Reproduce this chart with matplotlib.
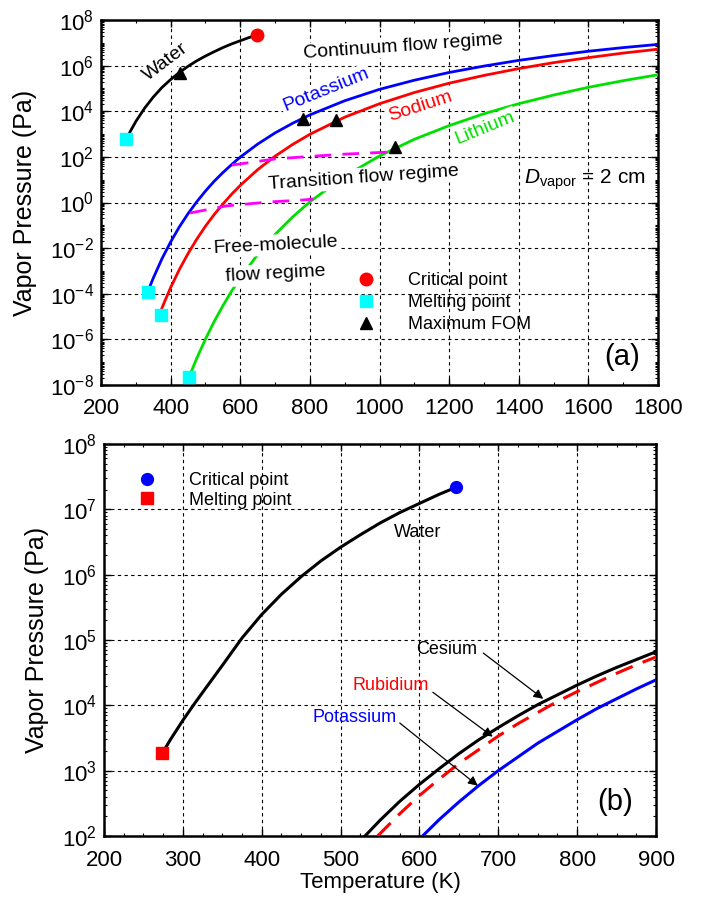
import numpy as np
import matplotlib
matplotlib.use("Agg")
import matplotlib.pyplot as plt
from matplotlib.ticker import LogLocator, MultipleLocator, NullFormatter, FixedLocator

plt.rcParams['font.family'] = ['Liberation Sans', 'DejaVu Sans']
plt.rcParams['mathtext.fontset'] = 'custom'
plt.rcParams['mathtext.rm'] = 'Liberation Sans'
plt.rcParams['mathtext.it'] = 'Liberation Sans:italic'
plt.rcParams['axes.unicode_minus'] = False

# ---- data, pressures as log10(P / Pa) ----
# panel (a)
T_water = [273, 285, 300, 325, 350, 375, 400, 425, 450, 475, 500, 525, 550, 575, 600, 625, 647]
lp_water = [2.79, 3.14, 3.55, 4.13, 4.62, 5.04, 5.39, 5.70, 5.97, 6.21, 6.42, 6.61,
            6.79, 6.95, 7.09, 7.23, 7.34]

T_k = [336, 350, 375, 400, 425, 450, 475, 500, 525, 550, 575, 600, 650, 700, 750, 800,
       900, 1000, 1100, 1200, 1300, 1400, 1500, 1600, 1700, 1800]
lp_k = [-3.85, -3.32, -2.47, -1.73, -1.07, -0.49, 0.03, 0.50, 0.93, 1.31, 1.66, 1.99,
        2.56, 3.05, 3.47, 3.84, 4.46, 4.96, 5.36, 5.70, 5.98, 6.23, 6.44, 6.63, 6.79, 6.93]

T_na = [371, 385, 400, 425, 450, 475, 500, 525, 550, 575, 600, 650, 700, 750, 800,
        900, 1000, 1100, 1200, 1300, 1400, 1500, 1600, 1700, 1800]
lp_na = [-4.78, -4.26, -3.73, -2.94, -2.24, -1.61, -1.04, -0.53, -0.07, 0.36, 0.75,
         1.44, 2.03, 2.54, 2.99, 3.74, 4.33, 4.82, 5.23, 5.57, 5.87, 6.13, 6.35, 6.55, 6.72]

T_li = [454, 475, 500, 525, 550, 575, 600, 650, 700, 750, 800, 900, 1000, 1100, 1200,
        1300, 1400, 1500, 1600, 1700, 1800]
lp_li = [-7.61, -6.83, -5.99, -5.22, -4.53, -3.89, -3.31, -2.28, -1.40, -0.64, 0.03,
         1.15, 2.04, 2.77, 3.37, 3.89, 4.33, 4.71, 5.05, 5.34, 5.60]

# flow regime boundaries (dashed magenta)
T_cont = [576, 700, 800, 900, 1040]
lp_cont = [1.64, 1.91, 2.02, 2.12, 2.22]
T_free = [456, 560, 680, 780, 810]
lp_free = [-0.46, -0.15, 0.02, 0.11, 0.15]

T_crit_a = [647]
lp_crit_a = [7.34]
T_melt_a = [273, 336, 371, 454]
lp_melt_a = [2.79, -3.92, -4.93, -7.65]
T_fom = [427, 780, 875, 1045]
lp_fom = [5.67, 3.65, 3.60, 2.42]

# panel (b)
T_water_b = [273, 285, 300, 315, 330, 350, 375, 400, 425, 450, 475, 500, 525, 550,
             575, 600, 625, 647]
lp_water_b = [3.25, 3.49, 3.77, 4.03, 4.28, 4.61, 5.03, 5.39, 5.70, 5.97, 6.21, 6.42,
              6.61, 6.79, 6.95, 7.09, 7.23, 7.34]
T_cs = [531, 550, 575, 600, 625, 650, 675, 700, 725, 750, 775, 800, 825, 850, 875, 900]
lp_cs = [2.00, 2.24, 2.53, 2.79, 3.03, 3.26, 3.47, 3.66, 3.84, 4.01, 4.16, 4.31, 4.45,
         4.58, 4.70, 4.82]
T_rb = [547, 575, 600, 625, 650, 675, 700, 725, 750, 775, 800, 825, 850, 875, 900]
lp_rb = [2.00, 2.34, 2.62, 2.87, 3.11, 3.32, 3.53, 3.72, 3.89, 4.06, 4.21, 4.35, 4.49,
         4.62, 4.74]
T_kb = [604, 625, 650, 675, 700, 725, 750, 775, 800, 825, 850, 875, 900]
lp_kb = [2.00, 2.25, 2.52, 2.77, 3.00, 3.21, 3.42, 3.60, 3.78, 3.95, 4.10, 4.25, 4.39]

T_crit_b = [647]
lp_crit_b = [7.34]
T_melt_b = [273]
lp_melt_b = [3.27]


def P(lp):
    return 10.0 ** np.array(lp)


def style_axes(ax):
    for s in ax.spines.values():
        s.set_linewidth(1.8)
    ax.tick_params(which='both', direction='in', top=True, right=True, labelsize=16)
    ax.tick_params(which='major', length=5, width=1)
    ax.tick_params(which='minor', length=2.5, width=0.8)
    ax.grid(True, which='major', color='black', linestyle=(0, (3, 3)), linewidth=0.8)
    ax.set_axisbelow(True)


lab = dict(bbox=dict(boxstyle='square,pad=0.1', fc='white', ec='none'),
           ha='center', va='center', zorder=5, fontsize=14)

fig = plt.figure(figsize=(7.01, 8.97), dpi=100)

# ================= (a) =================
ax1 = fig.add_axes([101 / 701, 1 - 385 / 897, 557 / 701, 365 / 897])
ax1.set_yscale('log')
ax1.set_xlim(200, 1800)
ax1.set_ylim(1e-8, 1e8)

ax1.plot(T_water, P(lp_water), color='black', lw=2, zorder=3)
ax1.plot(T_k, P(lp_k), color='#0000ff', lw=2, zorder=3)
ax1.plot(T_na, P(lp_na), color='#ff0000', lw=2, zorder=3)
ax1.plot(T_li, P(lp_li), color='#00e000', lw=2, zorder=3)
ax1.plot(T_cont, P(lp_cont), color='#ff00ff', lw=2, dashes=(6, 4), zorder=3)
ax1.plot(T_free, P(lp_free), color='#ff00ff', lw=2, dashes=(6, 4), zorder=3)

h1, = ax1.plot(T_crit_a, P(lp_crit_a), 'o', color='#ff0000', ms=9, zorder=7, clip_on=False)
h2, = ax1.plot(T_melt_a, P(lp_melt_a), 's', color='#00ffff', ms=8.5, zorder=7, clip_on=False)
h3, = ax1.plot(T_fom, P(lp_fom), '^', color='black', ms=9, zorder=7, clip_on=False)

ax1.text(387, 10**6.16, 'Water', rotation=37, **lab)
ax1.text(1068, 10**6.84, 'Continuum flow regime', rotation=4, **lab)
ax1.text(846, 10**4.93, 'Potassium', rotation=22, color='#0000ff', **lab)
ax1.text(1116, 10**4.19, 'Sodium', rotation=18, color='#ff0000', **lab)
ax1.text(1303, 10**3.27, 'Lithium', rotation=22, color='#00e000', **lab)
ax1.text(953, 10**1.07, 'Transition flow regime', rotation=4, **lab)
ax1.text(700, 10**-1.86, 'Free-molecule', rotation=3, **lab)
ax1.text(700, 10**-3.14, 'flow regime', rotation=3, **lab)
ax1.text(1591, 10**0.99, r'$D_{\mathrm{vapor}}$ = 2 cm', ha='center', va='center', fontsize=15)
ax1.text(1697, 10**-6.77, '(a)', ha='center', va='center', fontsize=21)

ax1.legend([h1, h2, h3], ['Critical point', 'Melting point', 'Maximum FOM'],
           loc='center left', bbox_to_anchor=(0.46, 0.225), frameon=False,
           handlelength=1.0, handletextpad=1.8, labelspacing=0.28,
           borderpad=0, borderaxespad=0, fontsize=13, numpoints=1)

ax1.xaxis.set_major_locator(MultipleLocator(200))
ax1.xaxis.set_minor_locator(MultipleLocator(100))
ax1.yaxis.set_major_locator(FixedLocator([10.0 ** k for k in range(-8, 9, 2)]))
ax1.yaxis.set_minor_locator(LogLocator(base=10, subs=np.arange(1, 10), numticks=40))
ax1.yaxis.set_minor_formatter(NullFormatter())
style_axes(ax1)
ax1.tick_params(axis='x', pad=9)
ax1.tick_params(axis='y', pad=5)
ax1.set_ylabel('Vapor Pressure (Pa)', fontsize=18)
ax1.yaxis.set_label_coords(-0.115, 0.5)

# ================= (b) =================
ax2 = fig.add_axes([104 / 701, 1 - 836 / 897, 552 / 701, 392 / 897])
ax2.set_yscale('log')
ax2.set_xlim(200, 900)
ax2.set_ylim(1e2, 1e8)

ax2.plot(T_water_b, P(lp_water_b), color='black', lw=2.2, zorder=3)
ax2.plot(T_cs, P(lp_cs), color='black', lw=2.2, zorder=3)
ax2.plot(T_rb, P(lp_rb), color='#ff0000', lw=2.2, dashes=(6, 3.5), zorder=3)
ax2.plot(T_kb, P(lp_kb), color='#0000ff', lw=2.2, zorder=3)

g1, = ax2.plot(T_crit_b, P(lp_crit_b), 'o', color='#0000ff', ms=8.5, zorder=7)
g2, = ax2.plot(T_melt_b, P(lp_melt_b), 's', color='#ff0000', ms=8, zorder=7)

ax2.text(598, 10**6.65, 'Water', ha='center', va='center', fontsize=13)
ax2.text(635, 10**4.85, 'Cesium', ha='center', va='center', fontsize=13)
ax2.text(564, 10**4.31, 'Rubidium', ha='center', va='center', fontsize=13, color='#ff0000')
ax2.text(518, 10**3.82, 'Potassium', ha='center', va='center', fontsize=13, color='#0000ff')
arw = dict(arrowstyle='-|>', color='black', lw=0.9, mutation_scale=14, shrinkA=0, shrinkB=0)
ax2.annotate('', xy=(757, 10**4.10), xytext=(681, 10**4.80), arrowprops=arw)
ax2.annotate('', xy=(693, 10**3.52), xytext=(617, 10**4.20), arrowprops=arw)
ax2.annotate('', xy=(674, 10**2.77), xytext=(575, 10**3.73), arrowprops=arw)
ax2.text(848, 10**2.52, '(b)', ha='center', va='center', fontsize=21)

ax2.legend([g1, g2], ['Critical point', 'Melting point'],
           loc='center left', bbox_to_anchor=(0.0616, 0.882), frameon=False,
           handlelength=1.0, handletextpad=1.8, labelspacing=0.15,
           borderpad=0, borderaxespad=0, fontsize=13, numpoints=1)

ax2.xaxis.set_major_locator(MultipleLocator(100))
ax2.xaxis.set_minor_locator(MultipleLocator(25))
ax2.yaxis.set_major_locator(LogLocator(base=10, numticks=10))
ax2.yaxis.set_minor_locator(LogLocator(base=10, subs=np.arange(2, 10), numticks=10))
ax2.yaxis.set_minor_formatter(NullFormatter())
style_axes(ax2)
ax2.tick_params(axis='x', pad=10)
ax2.tick_params(axis='y', pad=5)
ax2.set_ylabel('Vapor Pressure (Pa)', fontsize=18)
ax2.yaxis.set_label_coords(-0.10, 0.5)
ax2.set_xlabel('Temperature (K)', fontsize=16)
ax2.xaxis.set_label_coords(0.5, -0.092)

fig.savefig('out.png', dpi=100)
